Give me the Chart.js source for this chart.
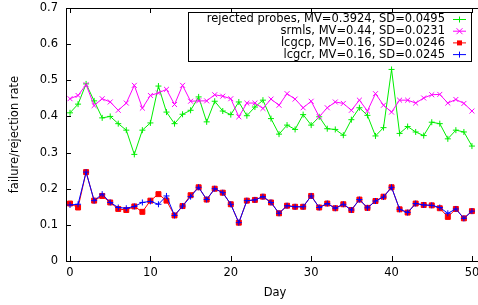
<!DOCTYPE html>
<html>
<head>
<meta charset="utf-8">
<script src="https://cdn.jsdelivr.net/npm/chart.js@4"></script>
<style>
  html, body { margin: 0; padding: 0; background: #fff; overflow: hidden; }
  #wrap { width: 478px; height: 305px; overflow: hidden; }
</style>
</head>
<body>
<div id="wrap"><canvas id="chart" width="484" height="305"></canvas></div>
<script>
// days on the x axis
const days = [];
for (let d = 0; d <= 50; d++) days.push(d);

const rejected = [0.41, 0.434, 0.49, 0.443, 0.396, 0.40, 0.38, 0.362, 0.295, 0.362,
    0.382, 0.484, 0.412, 0.38, 0.406, 0.417, 0.454, 0.385, 0.442, 0.415,
    0.405, 0.44, 0.402, 0.426, 0.445, 0.394, 0.351, 0.376, 0.364, 0.405,
    0.376, 0.399, 0.366, 0.364, 0.348, 0.391, 0.424, 0.403, 0.346, 0.369,
    0.53, 0.353, 0.372, 0.357, 0.347, 0.384, 0.38, 0.338, 0.362, 0.357, 0.318];

const srmls = [0.449, 0.458, 0.488, 0.43, 0.449, 0.44, 0.417, 0.437, 0.486, 0.423,
    0.458, 0.465, 0.475, 0.433, 0.486, 0.442, 0.443, 0.443, 0.46, 0.456,
    0.449, 0.399, 0.437, 0.437, 0.422, 0.448, 0.431, 0.463, 0.448, 0.424,
    0.442, 0.399, 0.424, 0.44, 0.436, 0.417, 0.445, 0.415, 0.463, 0.431,
    0.412, 0.445, 0.445, 0.437, 0.451, 0.46, 0.461, 0.437, 0.447, 0.436, 0.415];

const lcgcp = [0.159, 0.148, 0.246, 0.167, 0.18, 0.162, 0.144, 0.141, 0.151, 0.136,
    0.167, 0.185, 0.167, 0.126, 0.152, 0.182, 0.204, 0.17, 0.2, 0.189,
    0.157, 0.106, 0.167, 0.169, 0.178, 0.162, 0.132, 0.153, 0.15, 0.15,
    0.18, 0.148, 0.159, 0.146, 0.157, 0.141, 0.17, 0.147, 0.166, 0.178,
    0.204, 0.143, 0.134, 0.159, 0.155, 0.154, 0.146, 0.122, 0.144, 0.118, 0.138];

const lcgcr = [0.155, 0.157, 0.246, 0.167, 0.185, 0.162, 0.148, 0.146, 0.151, 0.162,
    0.165, 0.157, 0.18, 0.126, 0.152, 0.178, 0.204, 0.17, 0.2, 0.189,
    0.157, 0.106, 0.167, 0.169, 0.178, 0.162, 0.132, 0.153, 0.15, 0.15,
    0.18, 0.148, 0.159, 0.146, 0.157, 0.141, 0.17, 0.147, 0.166, 0.177,
    0.204, 0.143, 0.134, 0.159, 0.155, 0.154, 0.148, 0.132, 0.144, 0.118, 0.138];

const labels = [
    "rejected probes, MV=0.3924, SD=0.0495",
    "srmls, MV=0.44, SD=0.0231",
    "lcgcp, MV=0.16, SD=0.0246",
    "lcgcr, MV=0.16, SD=0.0245"
];
const xTicks = [0, 10, 20, 30, 40, 50];
const yTicks = [0, 0.1, 0.2, 0.3, 0.4, 0.5, 0.6, 0.7];

const font = "DejaVu Sans";
const fs = 11.5;
const pts = vals => days.map((d, i) => ({ x: d, y: vals[i] }));

function ds(label, vals, color, style, radius, order) {
    return {
        label: label,
        data: pts(vals),
        borderColor: color,
        backgroundColor: color,
        borderWidth: 1,
        pointStyle: style,
        pointRadius: radius,
        pointBorderWidth: 1,
        pointHoverRadius: radius,
        tension: 0,
        order: order
    };
}

// gnuplot-like frame, inward ticks and key box
const frame = {
    id: "frame",
    afterDatasetsDraw(chart) {
        const ctx = chart.ctx;
        const a = chart.chartArea;
        const xs = chart.scales.x, ys = chart.scales.y;
        ctx.save();
        ctx.strokeStyle = "#000";
        ctx.lineWidth = 1;
        ctx.beginPath();
        ctx.moveTo(a.left, a.top + 0.5);
        ctx.lineTo(a.right, a.top + 0.5);
        xTicks.forEach(v => {
            const p = Math.round(xs.getPixelForValue(v)) + 0.5;
            ctx.moveTo(p, a.bottom); ctx.lineTo(p, a.bottom - 5);
            ctx.moveTo(p, a.top); ctx.lineTo(p, a.top + 5);
        });
        yTicks.forEach(v => {
            const p = Math.round(ys.getPixelForValue(v)) + 0.5;
            ctx.moveTo(a.left, p); ctx.lineTo(a.left + 5, p);
        });
        ctx.stroke();

        // key
        ctx.fillStyle = "#fff";
        ctx.fillRect(188.5, 12.5, 283, 49);
        ctx.strokeRect(188.5, 12.5, 283, 49);
        ctx.font = fs + "px '" + font + "'";
        ctx.textAlign = "right";
        ctx.textBaseline = "middle";
        chart.data.datasets.forEach((d, i) => {
            const y = 19.5 + i * 11.7;
            ctx.fillStyle = "#000";
            ctx.fillText(d.label, 445, y);
            ctx.strokeStyle = d.borderColor;
            ctx.fillStyle = d.borderColor;
            ctx.beginPath();
            ctx.moveTo(453, y); ctx.lineTo(466, y);
            ctx.stroke();
            const mx = 459.5, r = 3;
            ctx.beginPath();
            if (d.pointStyle === "crossRot") {
                ctx.moveTo(mx - r, y - r); ctx.lineTo(mx + r, y + r);
                ctx.moveTo(mx - r, y + r); ctx.lineTo(mx + r, y - r);
                ctx.stroke();
            } else if (d.pointStyle === "rect") {
                ctx.fillRect(mx - 2.5, y - 2.5, 5, 5);
            } else {
                ctx.moveTo(mx, y - r); ctx.lineTo(mx, y + r);
                ctx.stroke();
            }
        });
        ctx.restore();
    }
};

new Chart(document.getElementById("chart"), {
    type: "line",
    data: {
        datasets: [
            ds(labels[0], rejected, "#00ee00", "cross", 3, 4),
            ds(labels[1], srmls, "#ff00ff", "crossRot", 3.5, 3),
            ds(labels[2], lcgcp, "#ff0000", "rect", 3.5, 2),
            ds(labels[3], lcgcr, "#0000ff", "cross", 3, 1)
        ]
    },
    options: {
        responsive: false,
        devicePixelRatio: 1,
        animation: false,
        layout: { autoPadding: false, padding: { top: 8, left: 0, right: 0, bottom: 0 } },
        plugins: { legend: { display: false }, tooltip: { enabled: false } },
        scales: {
            x: {
                type: "linear",
                min: -0.5,
                max: 51.5,
                afterBuildTicks: s => { s.ticks = xTicks.map(v => ({ value: v })); },
                afterFit: s => { s.height = 44; s.paddingLeft = 0; s.paddingRight = 0; },
                grid: { display: true, drawOnChartArea: false, drawTicks: false },
                border: { display: true, color: "#000", width: 1 },
                ticks: { color: "#000", font: { family: font, size: fs }, padding: 5, maxRotation: 0 },
                title: { display: true, text: "Day", color: "#000", font: { family: font, size: fs }, padding: { top: 0, bottom: 5 } }
            },
            y: {
                min: 0,
                max: 0.7,
                afterBuildTicks: s => { s.ticks = yTicks.map(v => ({ value: v })); },
                afterFit: s => { s.width = 66; s.paddingTop = 0; s.paddingBottom = 0; },
                grid: { display: true, drawOnChartArea: false, drawTicks: false },
                border: { display: true, color: "#000", width: 1 },
                ticks: { color: "#000", font: { family: font, size: fs }, padding: 8,
                    callback: v => String(Math.round(v * 10) / 10) },
                title: { display: true, text: "failure/rejection rate", color: "#000", font: { family: font, size: fs }, padding: { top: 8, bottom: 0 } }
            }
        }
    },
    plugins: [frame]
});
</script>
</body>
</html>
